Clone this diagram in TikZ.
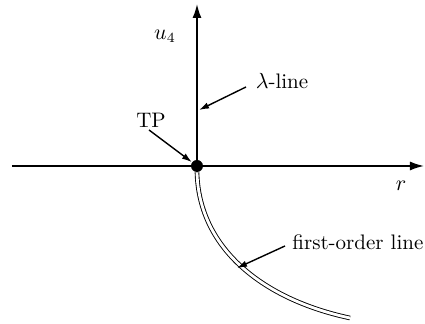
\documentclass[tikz,border=0pt]{standalone}
\usetikzlibrary{arrows.meta}
\tikzset{
  asse/.style   = {line width=0.8pt, -{Latex[length=7pt,width=4.5pt]}},
  punto/.style  = {circle, fill=black, minimum size=6pt, inner sep=0},
  freccia/.style= {line width=0.7pt, -{Latex[length=5pt,width=3.2pt]}},
  primo/.style  = {line width=0.45pt, double, double distance=1.4pt},
  et/.style     = {font=\fontsize{10.5}{12}\selectfont, inner sep=1pt}
}

\begin{document}
\begin{tikzpicture}[x=0.5pt,y=-0.5pt]
  \useasboundingbox (0,0) rectangle (425,324);
  \node[punto] (tp) at (197,166) {};
  \coordinate (sx) at (12,166);  \coordinate (dx) at (424,166);
  \coordinate (su) at (197,4);
  \draw[asse] (sx)--(dx);
  \draw[asse] (tp.center)--(su);
  \coordinate (fine) at (350,318);
  \draw[primo] (tp.south) .. controls (199,250) and (265,300) .. (fine);
  \node[et] (u4)   at (165,36)  {$u_4$};
  \node[et] (r)    at (401,186) {$r$};
  \node[et] (tpl)  at (151,120) {TP};
  \node[et] (lam)  at (282,81)  {$\lambda$-line};
  \node[et,right] (fol) at (290,242) {first-order line};
  \coordinate (lamo) at (246,87);  \coordinate (lamtip) at (199,110);
  \coordinate (tpo)  at (149,130);
  \coordinate (folo) at (285,246); \coordinate (foltip) at (237,268);
  \draw[freccia] (lamo)--(lamtip);
  \draw[freccia] (tpo)--(tp);
  \draw[freccia] (folo)--(foltip);
\end{tikzpicture}
\end{document}
